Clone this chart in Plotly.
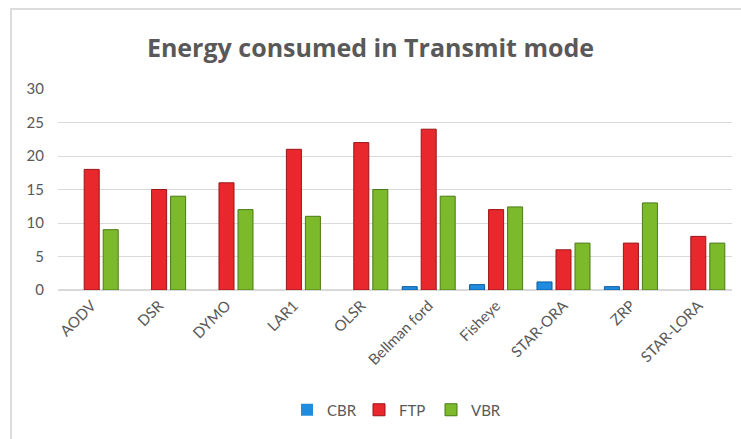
import plotly.graph_objects as go

protocols = ["AODV", "DSR", "DYMO", "LAR1", "OLSR", "Bellman ford",
             "Fisheye", "STAR-ORA", "ZRP", "STAR-LORA"]
cbr = [0, 0, 0, 0, 0, 0.5, 0.8, 1.2, 0.5, 0]
ftp = [18, 15, 16, 21, 22, 24, 12, 6, 7, 8]
vbr = [9, 14, 12, 11, 15, 14, 12.4, 7, 13, 7]

W, H = 741, 439
L, R, T, B = 58, 9, 89, 149
pw, ph = W - L - R, H - T - B

fig = go.Figure()
for name, vals, col, edge in [
    ("CBR", cbr, "#1f8ce0", "#0b5a9a"),
    ("FTP", ftp, "#e8282c", "#9c1418"),
    ("VBR", vbr, "#7cba2c", "#4a7a16"),
]:
    widths = [1 if v else 0 for v in vals]
    fig.add_trace(go.Bar(x=protocols, y=vals, name=name,
                         marker=dict(color=col, line=dict(color=edge, width=widths))))

fig.update_layout(
    width=W, height=H,
    margin=dict(l=L, r=R, t=T, b=B),
    paper_bgcolor="white", plot_bgcolor="white",
    font=dict(family="Lato, Open Sans, sans-serif", color="#595959"),
    title=dict(text="<b>Energy consumed in Transmit mode</b>", x=0.5, xanchor="center",
               y=1 - 48 / H, yanchor="middle",
               font=dict(size=25, color="#595959", family="Open Sans, sans-serif")),
    barmode="group", bargap=0.154, bargroupgap=0.21,
    legend=dict(orientation="h", x=0.5, xanchor="center",
                y=(290 - 410) / ph, yanchor="middle",
                font=dict(size=15, color="#595959"), itemwidth=30, entrywidth=27),
    shapes=[dict(type="rect", xref="paper", yref="paper",
                 x0=(11 - L) / pw, x1=(760 - L) / pw,
                 y0=(290 - 460) / ph, y1=(290 - 9) / ph,
                 line=dict(color="#dcdcdc", width=2))],
)
fig.update_yaxes(range=[0, 30], dtick=5, gridcolor="#d9d9d9",
                 zeroline=True, zerolinecolor="#d9d9d9",
                 tickfont=dict(size=15, color="#595959"), ticklen=0,
                 ticklabelstandoff=13)
fig.update_xaxes(tickangle=-45, tickfont=dict(size=15, color="#595959"),
                 showline=True, linecolor="#d9d9d9")

fig.write_html("out.html", config={"displayModeBar": False},
               post_script="document.body.style.margin='0';")
